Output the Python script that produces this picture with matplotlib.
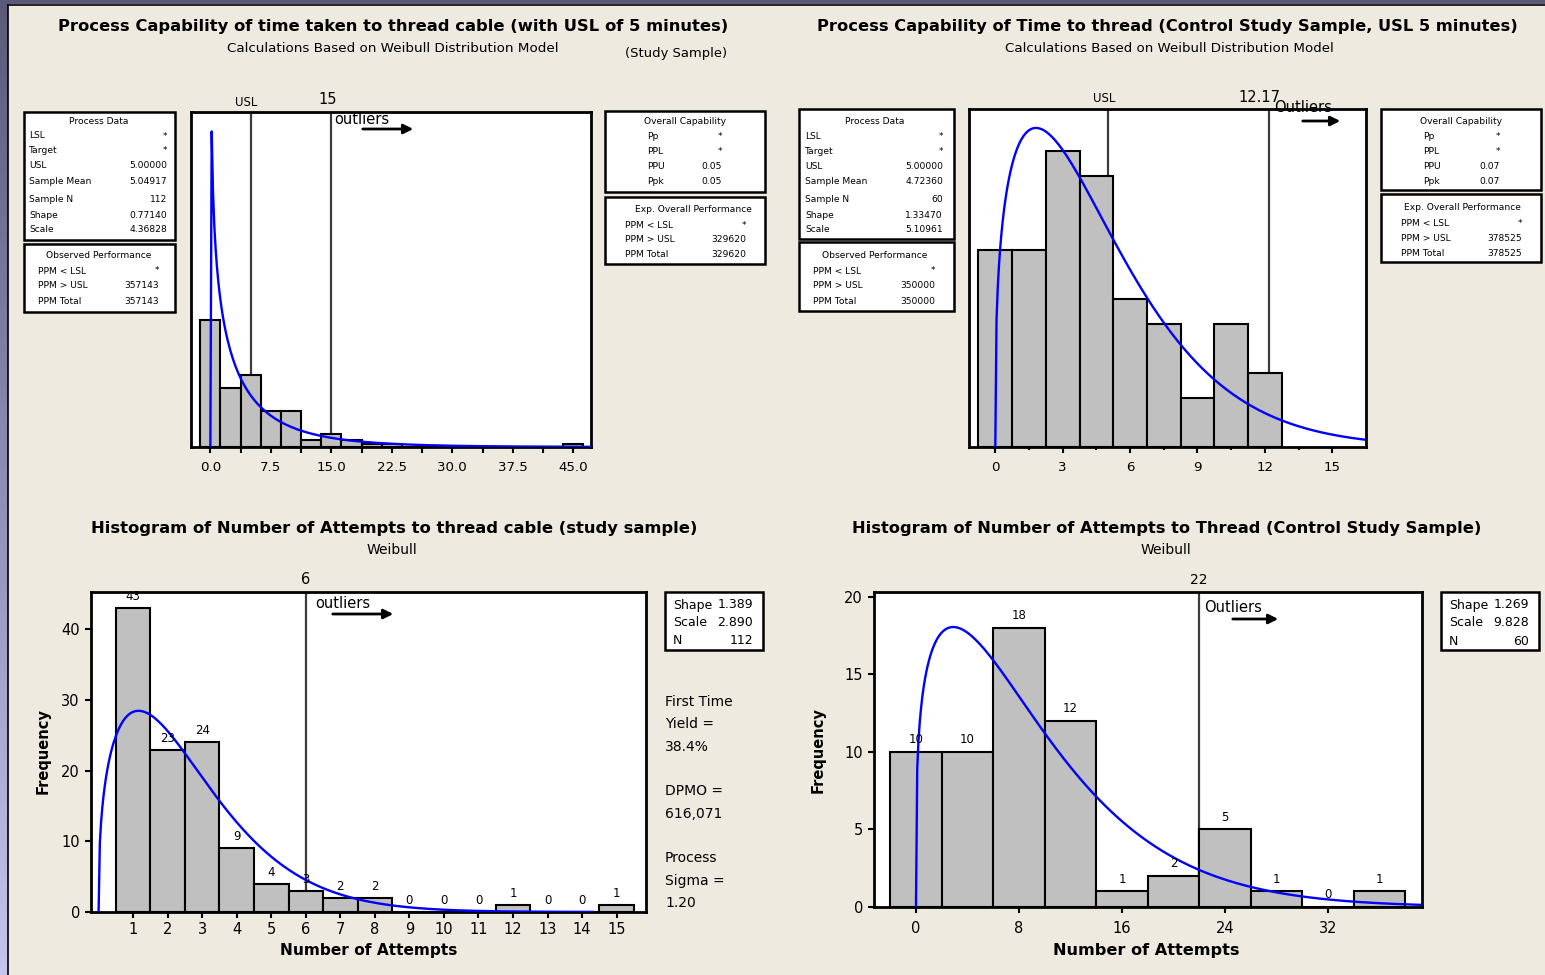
import numpy as np
import matplotlib
matplotlib.use("Agg")
import matplotlib.pyplot as plt
from matplotlib.patches import Rectangle
from matplotlib.lines import Line2D
from matplotlib.colors import LinearSegmentedColormap

W, H, DPI = 1545, 975, 100
BG = "#EEEAE0"
BAR = "#C0C0C0"
CURVE = "#0000FF"
VLINE = "#3C3C3C"
plt.rcParams["font.family"] = ["DejaVu Sans"]

# ------------------------------------------------------------------ data
# Top-left: time to thread cable (study sample)
tl_centers = [0, 2.5, 5, 7.5, 10, 12.5, 15, 17.5, 20, 22.5, 25, 27.5, 30, 32.5, 35, 37.5, 40, 42.5, 45]
tl_counts = [39, 18, 22, 11, 11, 2, 4, 2, 1, 1, 0, 0, 0, 0, 0, 0, 0, 0, 1]
tl_binw = 2.5
tl_shape, tl_scale, tl_n = 0.77140, 4.36828, 112
tl_usl, tl_outlier = 5, 15
tl_xticks = [0, 7.5, 15, 22.5, 30, 37.5, 45]
tl_xticklabels = ["0.0", "7.5", "15.0", "22.5", "30.0", "37.5", "45.0"]
tl_xminor = [3.75, 11.25, 18.75, 26.25, 33.75, 41.25]

# Top-right: time to thread (control study sample)
tr_centers = [0, 1.5, 3, 4.5, 6, 7.5, 9, 10.5, 12]
tr_counts = [8, 8, 12, 11, 6, 5, 2, 5, 3]
tr_binw = 1.5
tr_shape, tr_scale, tr_n = 1.33470, 5.10961, 60
tr_usl, tr_outlier = 5, 12.17
tr_xticks = [0, 3, 6, 9, 12, 15]
tr_xminor = [1.5, 4.5, 7.5, 10.5, 13.5]

# Bottom-left: number of attempts (study sample)
bl_centers = [1, 2, 3, 4, 5, 6, 7, 8, 9, 10, 11, 12, 13, 14, 15]
bl_counts = [43, 23, 24, 9, 4, 3, 2, 2, 0, 0, 0, 1, 0, 0, 1]
bl_binw = 1
bl_shape, bl_scale, bl_n = 1.389, 2.890, 112
bl_outlier = 6
bl_xticks = [1, 2, 3, 4, 5, 6, 7, 8, 9, 10, 11, 12, 13, 14, 15]
bl_yticks = [0, 10, 20, 30, 40]

# Bottom-right: number of attempts (control study sample)
br_centers = [0, 4, 8, 12, 16, 20, 24, 28, 32, 36]
br_counts = [10, 10, 18, 12, 1, 2, 5, 1, 0, 1]
br_binw = 4
br_shape, br_scale, br_n = 1.269, 9.828, 60
br_outlier = 22
br_xticks = [0, 8, 16, 24, 32]
br_yticks = [0, 5, 10, 15, 20]

# Tables
proc_labels = ["LSL", "Target", "USL", "Sample Mean", "Sample N", "Shape", "Scale"]
obs_labels = ["PPM < LSL", "PPM > USL", "PPM Total"]
cap_labels = ["Pp", "PPL", "PPU", "Ppk"]
exp_labels = ["PPM < LSL", "PPM > USL", "PPM Total"]
tl_proc_values = ["*", "*", "5.00000", "5.04917", "112", "0.77140", "4.36828"]
tl_obs_values = ["*", "357143", "357143"]
tl_cap_values = ["*", "*", "0.05", "0.05"]
tl_exp_values = ["*", "329620", "329620"]
tr_proc_values = ["*", "*", "5.00000", "4.72360", "60", "1.33470", "5.10961"]
tr_obs_values = ["*", "350000", "350000"]
tr_cap_values = ["*", "*", "0.07", "0.07"]
tr_exp_values = ["*", "378525", "378525"]

side_lines = ["First Time", "Yield =", "38.4%", "", "DPMO =", "616,071", "",
              "Process", "Sigma =", "1.20"]

# ------------------------------------------------------------------ helpers
fig = plt.figure(figsize=(W / DPI, H / DPI), dpi=DPI, facecolor=BG)
renderer = fig.canvas.get_renderer()


def fx(x):
    return x / W


def fy(y):
    return 1 - y / H


def ftext(x, y, s, **kw):
    kw.setdefault("ha", "left")
    kw.setdefault("va", "center")
    return fig.text(fx(x), fy(y), s, **kw)


def fit(t, width):
    bb = t.get_window_extent(renderer=renderer)
    t.set_fontsize(t.get_fontsize() * width / bb.width)
    return t


def box(x0, y0, x1, y1, lw=1.8):
    fig.add_artist(Rectangle((fx(x0), fy(y1)), (x1 - x0) / W, (y1 - y0) / H,
                             transform=fig.transFigure, facecolor="white",
                             edgecolor="black", lw=lw, zorder=1))


def weibull_curve(x, k, lam, n, bw):
    x = np.asarray(x, float)
    with np.errstate(all="ignore"):
        pdf = (k / lam) * (x / lam) ** (k - 1) * np.exp(-(x / lam) ** k)
    pdf = np.where(x > 0, pdf, 0.0)
    return pdf * n * bw


def panel(x0, y0, x1, y1, xlim, ylim):
    ax = fig.add_axes([fx(x0), fy(y1), (x1 - x0) / W, (y1 - y0) / H])
    ax.set_xlim(*xlim)
    ax.set_ylim(*ylim)
    ax.set_facecolor("white")
    for s in ax.spines.values():
        s.set_linewidth(2.0)
        s.set_color("black")
    ax.tick_params(direction="out", length=4.5, width=1.5, colors="black")
    return ax


def arrow(x0, x1, y):
    fig.add_artist(matplotlib.patches.FancyArrowPatch(
        (fx(x0), fy(y)), (fx(x1), fy(y)), transform=fig.transFigure,
        arrowstyle="-|>", mutation_scale=14, color="black", lw=2.0))


def table(bx, title, tx, ty, labels, values, lx, vx, rows, fs=6.6):
    box(*bx)
    ftext(tx, ty, title, ha="center", fontsize=fs)
    for lab, val, ry in zip(labels, values, rows):
        ftext(lx, ry, lab, fontsize=fs)
        ftext(vx, ry, val, ha="right", fontsize=fs)


def line_label(ax, x, s, dy_px, fs, dx_px=0):
    ax.annotate(s, xy=(x, 1), xycoords=("data", "axes fraction"),
                xytext=(dx_px * 72 / DPI, dy_px * 72 / DPI), textcoords="offset points",
                ha="center", va="center", fontsize=fs)


# ------------------------------------------------------------------ frame strips
strip = fig.add_axes([0, 0, 7.5 / W, 1])
strip.imshow(np.linspace(0, 1, 256).reshape(-1, 1), aspect="auto",
             cmap=LinearSegmentedColormap.from_list("s", ["#5A5A78", "#8E8EB8", "#C4C4EE"]))
strip.axis("off")
fig.add_artist(Rectangle((0, fy(4)), 1, 4 / H, transform=fig.transFigure,
                         color="#5A5A78", lw=0))
fig.add_artist(Line2D([fx(8), fx(8)], [0, fy(4.5)], transform=fig.transFigure, color="black", lw=1.2))
fig.add_artist(Line2D([fx(8), 1], [fy(4.5), fy(4.5)], transform=fig.transFigure, color="black", lw=1.2))

# ------------------------------------------------------------------ top-left
ax = panel(191, 112, 591, 447, (-2.4, 47.2), (0, 102.5))
ax.bar(tl_centers, tl_counts, width=tl_binw, color=BAR, edgecolor="black", lw=1.5, zorder=3)
for v in (tl_usl, tl_outlier):
    ax.axvline(v, color=VLINE, lw=1.6, zorder=2)
xs = np.arange(0, 47.2, 0.165)
ax.plot(xs, weibull_curve(xs, tl_shape, tl_scale, tl_n, tl_binw), color=CURVE, lw=1.7, zorder=4)
ax.set_yticks([])
ax.set_xticks(tl_xticks, tl_xticklabels, fontsize=9.6)
ax.set_xticks(tl_xminor, minor=True)
ax.tick_params(axis="x", which="both", length=4.5, width=1.5, pad=5.5)
line_label(ax, tl_usl, "USL", 10, 8.5, -4)
line_label(ax, tl_outlier, "15", 12, 10.5, -4)
ftext(334, 119, "outliers", fontsize=10.5)
arrow(360, 416, 129)

table((24, 112, 175, 240), "Process Data", 99, 121, proc_labels, tl_proc_values,
      29, 167, [136, 151, 166, 182, 200, 215, 230])
table((24, 244, 175, 312), "Observed Performance", 99, 255, obs_labels, tl_obs_values,
      38, 159, [271, 286, 301])
table((605, 111, 765, 192), "Overall Capability", 685, 121.5, cap_labels, tl_cap_values,
      647, 722, [136.5, 151.5, 166.5, 182])
table((605, 197, 765, 264), "Exp. Overall Performance", 693, 209.5, exp_labels, tl_exp_values,
      625, 746, [225, 240, 254.5])

fit(ftext(393, 27, "Process Capability of time taken to thread cable (with USL of 5 minutes)",
          ha="center", fontsize=12, fontweight="bold"), 667)
fit(ftext(393, 49, "Calculations Based on Weibull Distribution Model", ha="center", fontsize=10), 330)
fit(ftext(676, 53, "(Study Sample)", ha="center", fontsize=10), 102)

# ------------------------------------------------------------------ top-right
ax = panel(969, 109, 1366, 447, (-1.17, 16.5), (0, 13.7))
ax.bar(tr_centers, tr_counts, width=tr_binw, color=BAR, edgecolor="black", lw=1.5, zorder=3)
for v in (tr_usl, tr_outlier):
    ax.axvline(v, color=VLINE, lw=1.6, zorder=2)
xs = np.linspace(0, 16.5, 300)
ax.plot(xs, weibull_curve(xs, tr_shape, tr_scale, tr_n, tr_binw), color=CURVE, lw=1.7, zorder=4)
ax.set_yticks([])
ax.set_xticks(tr_xticks, [str(t) for t in tr_xticks], fontsize=9.6)
ax.set_xticks(tr_xminor, minor=True)
ax.tick_params(axis="x", which="major", length=4.5, width=1.5, pad=5.5)
ax.tick_params(axis="x", which="minor", length=2.5, width=1.5)
line_label(ax, tr_usl, "USL", 10, 8.5, -3)
line_label(ax, tr_outlier, "12.17", 11, 10.5, -9)
ftext(1274, 108, "Outliers", fontsize=10.5)
arrow(1300, 1343, 121)

table((799, 109, 954, 239), "Process Data", 875, 121.5, proc_labels, tr_proc_values,
      805, 943, [136.5, 151.5, 166.5, 182, 200, 215, 230])
table((799, 242, 954, 311), "Observed Performance", 875, 255, obs_labels, tr_obs_values,
      813, 935, [271, 286, 301])
table((1381, 109, 1541, 190), "Overall Capability", 1461, 122, cap_labels, tr_cap_values,
      1423, 1500, [136.5, 151.5, 166.5, 181.5])
table((1381, 194, 1541, 262), "Exp. Overall Performance", 1462, 208, exp_labels, tr_exp_values,
      1401, 1522, [223.5, 238.5, 253])

fit(ftext(1167, 26, "Process Capability of Time to thread (Control Study Sample, USL 5 minutes)",
          ha="center", fontsize=12, fontweight="bold"), 696)
fit(ftext(1169, 49, "Calculations Based on Weibull Distribution Model", ha="center", fontsize=10), 329)

# ------------------------------------------------------------------ bottom-left
ax = panel(91, 592, 646, 912, (-0.22, 15.85), (0, 45.3))
ax.bar(bl_centers, bl_counts, width=bl_binw, color=BAR, edgecolor="black", lw=1.5, zorder=3)
ax.axvline(bl_outlier, color=VLINE, lw=1.6, zorder=2)
xs = np.linspace(0, 14.3, 400)
ax.plot(xs, weibull_curve(xs, bl_shape, bl_scale, bl_n, bl_binw), color=CURVE, lw=1.7, zorder=4)
for c, n in zip(bl_centers, bl_counts):
    ax.annotate(str(n), xy=(c, n), xytext=(0, 11.5 * 72 / DPI), textcoords="offset points",
                ha="center", va="center", fontsize=8.5, zorder=5)
ax.set_xticks(bl_xticks, [str(t) for t in bl_xticks], fontsize=10.5)
ax.set_yticks(bl_yticks, [str(t) for t in bl_yticks], fontsize=10.5)
ax.tick_params(axis="x", pad=3)
ax.tick_params(axis="y", pad=3.5)
line_label(ax, bl_outlier, "6", 12, 10.5)
ftext(315, 604, "outliers", fontsize=10.5)
arrow(330, 396, 614)

fit(ftext(394, 528, "Histogram of Number of Attempts to thread cable (study sample)",
          ha="center", fontsize=12, fontweight="bold"), 605)
ftext(392, 550, "Weibull", ha="center", fontsize=10)
fit(ftext(369, 951, "Number of Attempts", ha="center", fontsize=11, fontweight="bold"), 177)
ftext(43, 751, "Frequency", ha="center", rotation=90, fontsize=10.5, fontweight="bold")

box(665, 592, 763, 650)
for lab, val, ry in zip(["Shape", "Scale", "N"], [f"{bl_shape:.3f}", f"{bl_scale:.3f}", str(bl_n)],
                        [605, 623, 641]):
    ftext(673, ry, lab, fontsize=9)
    ftext(753, ry, val, ha="right", fontsize=9)
for i, s in enumerate(side_lines):
    if s:
        ftext(665, 702 + i * 22.33, s, fontsize=10)

# ------------------------------------------------------------------ bottom-right
ax = panel(874, 592, 1422, 907, (-3.26, 39.3), (0, 20.3))
ax.bar(br_centers, br_counts, width=br_binw, color=BAR, edgecolor="black", lw=1.5, zorder=3)
ax.axvline(br_outlier, color=VLINE, lw=1.6, zorder=2)
xs = np.linspace(0, 39.3, 400)
ax.plot(xs, weibull_curve(xs, br_shape, br_scale, br_n, br_binw), color=CURVE, lw=1.7, zorder=4)
for c, n in zip(br_centers, br_counts):
    ax.annotate(str(n), xy=(c, n), xytext=(0, 12 * 72 / DPI), textcoords="offset points",
                ha="center", va="center", fontsize=8.5, zorder=5)
ax.set_xticks(br_xticks, [str(t) for t in br_xticks], fontsize=10.5)
ax.set_yticks(br_yticks, [str(t) for t in br_yticks], fontsize=10.5)
ax.tick_params(axis="x", pad=5.5)
ax.tick_params(axis="y", pad=3.5)
line_label(ax, br_outlier, "22", 12, 10)
ftext(1204, 607, "Outliers", fontsize=10.5)
arrow(1230, 1281, 619)

fit(ftext(1167, 528, "Histogram of Number of Attempts to Thread (Control Study Sample)",
          ha="center", fontsize=12, fontweight="bold"), 626)
ftext(1166, 550, "Weibull", ha="center", fontsize=10)
fit(ftext(1146, 951, "Number of Attempts", ha="center", fontsize=11, fontweight="bold"), 186)
ftext(818, 750, "Frequency", ha="center", rotation=90, fontsize=10.5, fontweight="bold")

box(1441, 592, 1539, 650)
for lab, val, ry in zip(["Shape", "Scale", "N"], [f"{br_shape:.3f}", f"{br_scale:.3f}", str(br_n)],
                        [605, 623, 641.5]):
    ftext(1449, ry, lab, fontsize=9)
    ftext(1529, ry, val, ha="right", fontsize=9)

fig.savefig("out.png", dpi=DPI, facecolor=BG)
